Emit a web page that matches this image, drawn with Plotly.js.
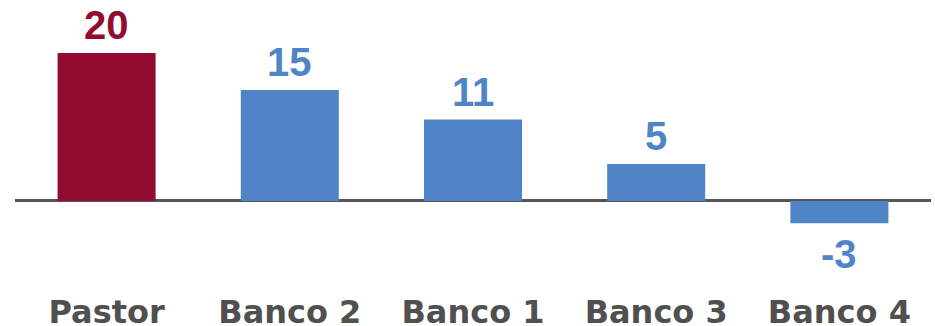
<!DOCTYPE html>
<html><head><meta charset="utf-8">
<script src="https://cdn.plot.ly/plotly-3.0.1.min.js"></script>
<style>html,body{margin:0;padding:0;background:#fff;}#chart{width:935px;height:326px;}</style>
</head><body><div id="chart"></div>
<script>
const categories = ["Pastor", "Banco 2", "Banco 1", "Banco 3", "Banco 4"];
const values = [20, 15, 11, 5, -3];
const barColors = ["#910C2E", "#4F85C6", "#4F85C6", "#4F85C6", "#4F85C6"];

const annotations = categories.map((c, i) => ({
  x: c, y: values[i], xref: 'x', yref: 'y',
  text: String(values[i]),
  showarrow: false,
  yanchor: values[i] >= 0 ? 'bottom' : 'top',
  yshift: values[i] >= 0 ? 4 : -7,
  font: {family: 'Liberation Sans, Arial, sans-serif', size: 40, weight: 'bold', color: barColors[i]}
}));

Plotly.newPlot('chart', [{
  type: 'bar', x: categories, y: values,
  marker: {color: barColors, line: {width: 0}},
  hoverinfo: 'none'
}], {
  width: 935, height: 326,
  margin: {l: 15, r: 4, t: 0, b: 36},
  bargap: 0.465,
  paper_bgcolor: '#fff', plot_bgcolor: '#fff',
  showlegend: false,
  xaxis: {
    type: 'category', showgrid: false, showline: false, zeroline: false, ticks: '',
    tickfont: {family: 'DejaVu Sans, sans-serif', size: 32, weight: 'bold', color: '#505050'}
  },
  yaxis: {
    range: [-12.03, 27.16], showgrid: false, showticklabels: false, ticks: '',
    zeroline: true, zerolinecolor: '#555555', zerolinewidth: 3, showline: false
  },
  annotations: annotations
}, {staticPlot: true});
</script></body></html>
